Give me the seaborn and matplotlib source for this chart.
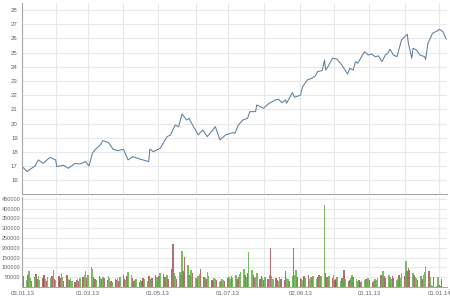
import numpy as np
import pandas as pd
import matplotlib
matplotlib.use("Agg")
import matplotlib.pyplot as plt
import seaborn as sns

# ---------------- data ----------------
START = "2013-01-03"

# price line: day offsets from START and closing prices
price_day = [0, 4, 8, 11, 14, 18, 24, 29, 30, 36, 40, 46, 50, 55, 58, 61, 63, 68, 70, 75,
             79, 83, 88, 92, 96, 100, 105, 110, 111, 114, 120, 126, 129, 133, 136, 139, 143,
             145, 149, 153, 157, 161, 168, 172, 177, 183, 185, 188, 192, 196, 198, 203, 204,
             210, 214, 220, 223, 226, 229, 230, 235, 237, 242, 244, 248, 252, 255, 257, 261,
             263, 264, 266, 270, 274, 278, 283, 285, 288, 290, 292, 296, 298, 301, 304, 307,
             310, 313, 316, 318, 320, 323, 326, 327, 330, 335, 336, 339, 340, 343, 346, 350,
             351, 353, 357, 361, 363, 366, 369]
price_val = [16.97, 16.62, 16.85, 17.01, 17.44, 17.20, 17.62, 17.44, 16.97, 17.06, 16.85,
             17.20, 17.15, 17.32, 17.01, 17.90, 18.14, 18.50, 18.80, 18.66, 18.19, 18.09,
             18.19, 17.44, 17.67, 17.56, 17.44, 17.32, 18.20, 18.02, 18.26, 19.08, 19.20,
             19.90, 19.78, 20.68, 20.25, 20.37, 19.78, 19.20, 19.55, 19.08, 19.78, 18.85,
             19.20, 19.36, 19.31, 19.90, 20.25, 20.37, 20.84, 20.84, 21.31, 21.08, 21.38,
             21.66, 21.71, 21.47, 21.66, 21.43, 22.18, 21.85, 22.00, 22.60, 23.07, 23.19,
             23.35, 23.66, 23.73, 24.48, 23.77, 24.01, 24.60, 24.53, 24.13, 23.49, 23.89,
             23.77, 24.36, 24.25, 24.83, 25.06, 24.83, 24.90, 24.71, 24.76, 24.36, 24.83,
             24.95, 25.23, 24.83, 24.71, 24.99, 25.89, 26.29, 25.65, 24.60, 25.30, 25.18,
             24.83, 24.71, 24.53, 25.65, 26.36, 26.52, 26.64, 26.47, 25.94]

# daily volume (thousands), one per trading day
volume_k = [
    40, 55, 35, 60, 80, 45, 30, 50, 65, 40, 55, 35, 45, 60, 40, 30, 50, 45, 55, 85,
    40, 35, 55, 45, 70, 50, 30, 60, 40, 35, 45, 30, 25, 35, 40, 30, 45, 50, 60, 80,
    45, 60, 100, 90, 50, 40, 35, 55, 45, 40, 50, 45, 35, 55, 45, 30, 25, 40, 35, 45,
    30, 50, 60, 40, 35, 55, 75, 60, 45, 30, 35, 40, 25, 35, 30, 45, 40, 30, 55, 40,
    35, 45, 60, 50, 40, 55, 70, 65, 50, 45, 60, 40, 90, 219, 70, 55, 40, 75, 60, 184,
    80, 155, 110, 60, 50, 85, 70, 45, 40, 55, 65, 90, 50, 45, 40, 75, 55, 35, 30, 45,
    40, 35, 25, 30, 40, 35, 30, 45, 50, 40, 55, 45, 60, 40, 50, 65, 75, 90, 60, 50,
    70, 180, 85, 60, 45, 50, 70, 40, 55, 45, 35, 50, 40, 60, 197, 55, 40, 45, 35, 30,
    50, 40, 35, 80, 45, 40, 30, 55, 197, 60, 85, 50, 45, 40, 35, 55, 45, 60, 40, 50,
    45, 55, 40, 50, 60, 45, 55, 418, 70, 50, 40, 55, 45, 60, 35, 40, 50, 30, 45, 40,
    85, 40, 30, 35, 45, 60, 50, 40, 30, 35, 25, 30, 35, 40, 30, 45, 35, 25, 30, 40,
    35, 45, 60, 50, 80, 55, 45, 60, 50, 40, 55, 45, 35, 40, 60, 45, 70, 55, 133, 80,
    95, 85, 70, 60, 50, 45, 35, 55, 40, 60, 75, 105, 80, 50, 10, 5, 50, 5, 50, 10,
    5, 40]

# direction of the day: G = up, R = down
direction = ("RRGRGGRGRRGGRRGRGGRG" "RGRRGGRRGRGGRRGRGRGG" "RGGGRRGRGRGRRGGRGRRG"
             "RGRRGRGGRRGGRGRRGGRG" "GRRGGRGRRGGRRRGGRGRG" "RRGRGGRGRGGRRGRGGRRG"
             "GRGRGGRRGGRGGRRGGGRG" "RGGRRGGRRGRGRGRGGRRG" "GRRRGGRGRGGRRGGRGRGG"
             "RGGRRGGGRRGGRGRRGGRG" "RGRRGGRGGRRGGRGGRRGG" "GGRGGRRGGGRRGGRGGRGR"
             "RRGRGGRGRGGGRGGGRGGR" "RR")

month_ticks = ["2013-02-01", "2013-03-01", "2013-04-01", "2013-05-01", "2013-06-03",
               "2013-07-01", "2013-08-01", "2013-09-02", "2013-10-01", "2013-11-01",
               "2013-12-02", "2014-01-01"]
label_dates = ["2013-01-03", "2013-03-01", "2013-05-01", "2013-07-01", "2013-09-02",
               "2013-11-01", "2014-01-01"]
label_texts = ["03.01.13", "01.03.13", "01.05.13", "01.07.13", "02.09.13", "01.11.13",
               "01.01.14"]

# ---------------- build ----------------
start = pd.Timestamp(START)
days_trading = pd.bdate_range(START, periods=len(volume_k))
vol_df = pd.DataFrame({
    "day": (days_trading - start).days,
    "volume": np.array(volume_k) * 1000,
    "dir": list(direction[:len(volume_k)]),
})
price_df = pd.DataFrame({"day": price_day, "price": price_val})

def off(dates):
    return [(pd.Timestamp(d) - start).days for d in dates]

grid_days = sorted(set(off(month_ticks)) | set(off(label_dates)))
lab_days = off(label_dates)

sns.set_style("white")
plt.rcParams["font.family"] = ["Liberation Sans", "DejaVu Sans"]

fig = plt.figure(figsize=(4.5, 3.0), dpi=100)
W, H = 450, 300
ax1 = fig.add_axes([22 / W, 1 - 194 / H, (447 - 22) / W, (194 - 3) / H])
ax2 = fig.add_axes([22 / W, 1 - 287 / H, (447 - 22) / W, (287 - 197) / H])

grid_c = "#e9e9e9"
axis_c = "#a8a8a8"
text_c = "#666666"
xlim = (-0.3, 369.6)

# price
sns.lineplot(data=price_df, x="day", y="price", ax=ax1, color="#5d7f9f", linewidth=0.75)
ax1.set_xlim(*xlim)
ax1.set_ylim(15.04, 28.49)
ax1.set_yticks(range(16, 29))
ax1.set_xticks(grid_days)
ax1.set_xticklabels([])

# volume
sns.barplot(data=vol_df, x="day", y="volume", hue="dir",
            palette={"G": "#5fbf3a", "R": "#b04848"}, native_scale=True,
            dodge=False, width=1.35, errorbar=None, legend=False, ax=ax2,
            alpha=0.85, linewidth=0)
ax2.set_xlim(*xlim)
ax2.set_ylim(0, 459000)
ax2.set_yticks(range(50000, 450001, 50000))
ax2.set_yticklabels([str(v) for v in range(50000, 450001, 50000)])
ax2.set_xticks(grid_days)
ax2.set_xticklabels([label_texts[lab_days.index(d)] if d in lab_days else ""
                     for d in grid_days])

for ax in (ax1, ax2):
    ax.set_xlabel("")
    ax.set_ylabel("")
    ax.grid(True, color=grid_c, linewidth=0.8)
    ax.set_axisbelow(True)
    for s in ("top", "right"):
        ax.spines[s].set_visible(False)
    for s in ("left", "bottom"):
        ax.spines[s].set_color(axis_c)
        ax.spines[s].set_linewidth(0.8)
    ax.tick_params(axis="both", labelsize=4.4, colors=axis_c, labelcolor=text_c,
                   length=2, width=0.6, pad=1)
ax1.tick_params(axis="x", length=0)
ax2.tick_params(axis="y", labelsize=4.0, pad=0.3, length=1.0)

fig.savefig("out.png", dpi=100)
